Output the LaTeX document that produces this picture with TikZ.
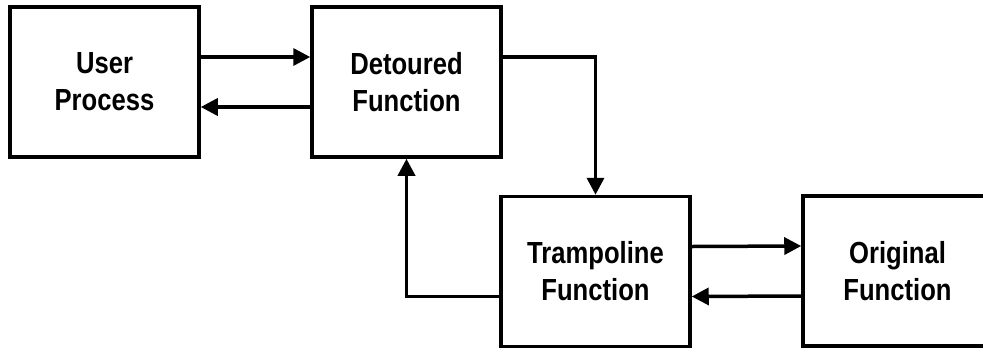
\documentclass[tikz,border=0pt]{standalone}
\usepackage{fontspec}
\setmainfont{Liberation Sans}[FakeStretch=0.84]
\usetikzlibrary{arrows.meta,calc}
\tikzset{
  box/.style={draw=black, line width=3.5pt, minimum width=189pt, minimum height=150pt,
    inner sep=0pt, align=center, font=\fontsize{30.5pt}{37pt}\selectfont\bfseries},
  arr/.style={line width=3.5pt, -{Triangle[length=17pt,width=17pt]}}
}
\begin{document}
\begin{tikzpicture}[x=1pt,y=-1pt]
\useasboundingbox (0,0) rectangle (983,349);
\clip (0,0) rectangle (983,349);
\node[box] (user) at (104.5,82) {User\\Process};
\node[box] (det) at (406.5,82) {Detoured\\Function};
\node[box] (tramp) at (595.5,271.5) {Trampoline\\Function};
\node[box] (orig) at (897.5,271) {Original\\Function};
\draw[arr] ([yshift=25pt]user.east) -- ([yshift=25pt]det.west);
\draw[arr] ([yshift=-25pt]det.west) -- ([yshift=-25pt]user.east);
\draw[arr] ([yshift=25pt]det.east) -| (tramp.north);
\draw[arr] ([yshift=-25pt]tramp.west) -| (det.south);
\draw[arr] ([yshift=25pt]tramp.east) -- ([yshift=25pt]orig.west);
\draw[arr] ([yshift=-25pt]orig.west) -- ([yshift=-25pt]tramp.east);
\end{tikzpicture}
\end{document}
